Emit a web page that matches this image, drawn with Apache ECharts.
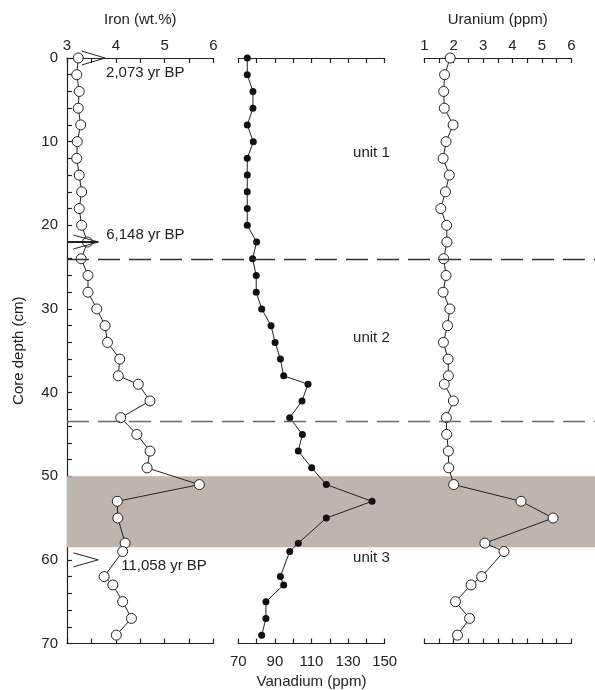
<!DOCTYPE html>
<html>
<head>
<meta charset="utf-8">
<script src="https://cdn.jsdelivr.net/npm/echarts@6/dist/echarts.min.js"></script>
<style>html,body{margin:0;padding:0;background:#fff}#c{width:595px;height:690px}</style>
</head>
<body>
<div id="c"></div>
<script>
// ---- data ----
const depths   = [0,2,4,6,8,10,12,14,16,18,20,22,24,26,28,30,32,34,36,38,39,41,43,45,47,49,51,53,55,58,59,62,63,65,67,69];
const iron     = [3.23,3.20,3.25,3.23,3.28,3.21,3.20,3.25,3.30,3.25,3.30,3.42,3.29,3.43,3.43,3.61,3.78,3.83,4.08,4.05,4.46,4.70,4.10,4.43,4.70,4.64,5.71,4.03,4.04,4.19,4.14,3.76,3.94,4.14,4.32,4.01];
const vanadium = [74.9,74.9,78.0,78.0,74.9,78.2,74.9,74.9,74.9,74.9,74.9,80.0,77.8,79.8,79.8,82.8,87.9,90.1,93.0,94.8,108.1,104.8,98.1,105.0,102.8,110.1,118.1,143.1,118.1,102.8,98.1,93.0,94.8,85.1,85.1,82.8];
const uranium  = [1.88,1.69,1.66,1.68,1.98,1.74,1.64,1.85,1.72,1.56,1.76,1.77,1.66,1.74,1.64,1.87,1.79,1.65,1.81,1.82,1.68,1.99,1.75,1.76,1.82,1.83,2.00,4.29,5.38,3.06,3.71,2.95,2.59,2.06,2.54,2.13];
const ageDepths  = [0, 22, 60];
const ageLabels  = ['2,073 yr BP', '6,148 yr BP', '11,058 yr BP'];
const ageFrom    = [3.30, 3.13, 3.13];
const ageTo      = [3.78, 3.64, 3.64];
const unitNames  = ['unit 1', 'unit 2', 'unit 3'];
const unitDepths = [11.4, 33.5, 59.8];
const unitBoundaries = [24.1, 43.4];
const bandRange  = [50, 58.5];

// ---- chart ----
const FONT = 'Arial, "Liberation Sans", sans-serif';
const INK = '#222';
const chart = echarts.init(document.getElementById('c'), null, {renderer: 'canvas'});
const gTop = 58, gH = 585.5;
const grids = [
  {left: 67, top: gTop, width: 146.5, height: gH, outerBoundsMode: 'none', containLabel: false},
  {left: 238.3, top: gTop, width: 146.4, height: gH, outerBoundsMode: 'none', containLabel: false},
  {left: 424.3, top: gTop, width: 147, height: gH, outerBoundsMode: 'none', containLabel: false},
  {left: 67, top: gTop, right: 0, height: gH, outerBoundsMode: 'none', containLabel: false}
];
const lineStyle = {color: INK, width: 1.2};
function xAx(grid, pos, min, max, interval, fmt, name) {
  return {
    type: 'value', gridIndex: grid, position: pos, min: min, max: max, interval: interval,
    splitLine: {show: false},
    axisLine: {show: true, onZero: false, lineStyle: lineStyle},
    axisTick: {show: true, inside: true, length: 5, lineStyle: lineStyle},
    axisLabel: {show: !!fmt, formatter: fmt || '', fontSize: 15, fontFamily: FONT, color: INK, margin: pos === 'top' ? 5 : 11},
    name: name || '', nameLocation: 'middle', nameGap: pos === 'top' ? 31 : 24,
    nameTextStyle: {fontSize: 15, fontFamily: FONT, color: INK}
  };
}
const intFmt = v => (Math.abs(v - Math.round(v)) < 1e-9 ? String(Math.round(v)) : '');
const vFmt = v => ((Math.round(v) - 70) % 20 === 0 ? String(Math.round(v)) : '');
function yAx(grid, show) {
  return {
    type: 'value', gridIndex: grid, inverse: true, min: 0, max: 70, interval: 2, show: show,
    splitLine: {show: false},
    axisLine: {show: true, lineStyle: lineStyle},
    axisTick: {show: true, inside: true, length: 5, lineStyle: lineStyle},
    axisLabel: {formatter: v => (v % 10 === 0 ? String(v) : ''), fontSize: 15, fontFamily: FONT, color: INK, margin: 9},
    name: 'Core depth (cm)', nameLocation: 'middle', nameGap: 41,
    nameTextStyle: {fontSize: 15, fontFamily: FONT, color: INK}
  };
}
const ironData = depths.map((d, i) => [iron[i], d]);
const vanData = depths.map((d, i) => [vanadium[i], d]);
const uraData = depths.map((d, i) => [uranium[i], d]);
const ageData = ageDepths.map((d, i) => [ageFrom[i], d, ageTo[i], i]);
const unitData = unitDepths.map((d, i) => [132.7, d, i]);
const ageTextOff = [[1, 15], [8, -7], [23, 6]];

const option = {
  animation: false,
  grid: grids,
  xAxis: [
    xAx(0, 'top', 3, 6, 0.5, intFmt, 'Iron (wt.%)'),
    xAx(0, 'bottom', 3, 6, 0.5, null),
    xAx(1, 'top', 70, 150, 10, null),
    xAx(1, 'bottom', 70, 150, 10, vFmt, 'Vanadium (ppm)'),
    xAx(2, 'top', 1, 6, 0.5, intFmt, 'Uranium (ppm)'),
    xAx(2, 'bottom', 1, 6, 0.5, null),
    {type: 'value', gridIndex: 3, min: 0, max: 1, show: false}
  ],
  yAxis: [yAx(0, true), yAx(1, false), yAx(2, false), yAx(3, false)],
  series: [
    {
      type: 'scatter', xAxisIndex: 6, yAxisIndex: 3, data: [], z: 0, silent: true,
      markArea: {silent: true, itemStyle: {color: '#bfb5af'}, data: [[{yAxis: bandRange[0]}, {yAxis: bandRange[1]}]]},
      markLine: {
        silent: true, symbol: 'none', label: {show: false},
        data: unitBoundaries.map((b, i) => ({yAxis: b, lineStyle: {color: i === 0 ? '#333' : '#666', width: 1.4, type: [22, 9]}}))
      }
    },
    {
      type: 'line', xAxisIndex: 0, yAxisIndex: 0, data: ironData, z: 3,
      symbol: 'circle', symbolSize: 10,
      lineStyle: {color: INK, width: 1},
      itemStyle: {color: '#fff', borderColor: INK, borderWidth: 1}
    },
    {
      type: 'line', xAxisIndex: 3, yAxisIndex: 1, data: vanData, z: 3,
      symbol: 'circle', symbolSize: 7,
      lineStyle: {color: INK, width: 1},
      itemStyle: {color: '#111', borderColor: '#111', borderWidth: 0}
    },
    {
      type: 'line', xAxisIndex: 4, yAxisIndex: 2, data: uraData, z: 3,
      symbol: 'circle', symbolSize: 10,
      lineStyle: {color: INK, width: 1},
      itemStyle: {color: '#fff', borderColor: INK, borderWidth: 1}
    },
    {
      type: 'custom', xAxisIndex: 0, yAxisIndex: 0, data: ageData, z: 5, clip: false,
      encode: {x: 0, y: 1},
      renderItem: function (params, api) {
        const d = api.value(1), x0 = api.value(0), x1 = api.value(2), i = api.value(3);
        const tip = api.coord([x1, d]);
        const a = api.coord([x0, d]);
        const h = 7;
        const children = [{
          type: 'polyline',
          shape: {points: [[a[0], tip[1] - h], [tip[0], tip[1]], [a[0], tip[1] + h]]},
          style: {stroke: INK, fill: null, lineWidth: 1}
        }];
        if (i === 1) {
          const ax = api.coord([3, d]);
          children.push({type: 'line', shape: {x1: ax[0], y1: tip[1], x2: tip[0], y2: tip[1]}, style: {stroke: INK, lineWidth: 2}});
        }
        children.push({
          type: 'text',
          style: {text: ageLabels[i], x: tip[0] + ageTextOff[i][0], y: tip[1] + ageTextOff[i][1],
            fill: INK, fontSize: 15, fontFamily: FONT, align: 'left', verticalAlign: 'middle'}
        });
        return {type: 'group', children: children};
      }
    },
    {
      type: 'custom', xAxisIndex: 3, yAxisIndex: 1, data: unitData, z: 5, clip: false,
      encode: {x: 0, y: 1},
      renderItem: function (params, api) {
        const p = api.coord([api.value(0), api.value(1)]);
        return {type: 'text', style: {text: unitNames[api.value(2)], x: p[0], y: p[1],
          fill: INK, fontSize: 15, fontFamily: FONT, align: 'left', verticalAlign: 'middle'}};
      }
    }
  ]
};
chart.setOption(option);
</script>
</body>
</html>
